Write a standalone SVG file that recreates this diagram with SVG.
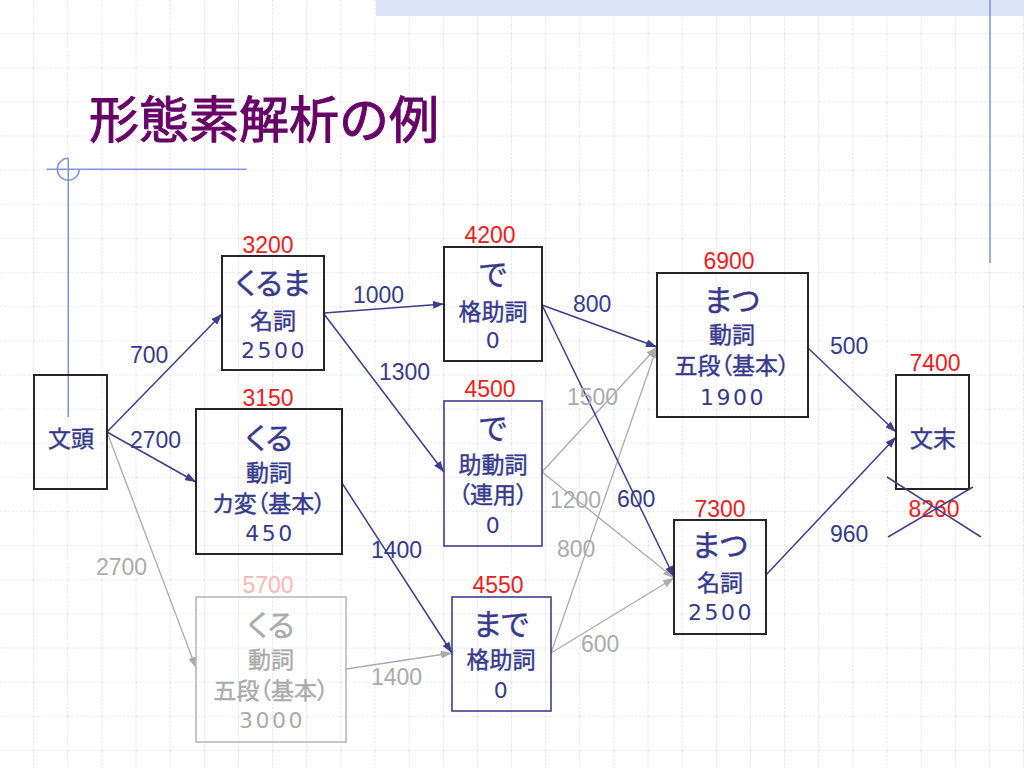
<svg xmlns="http://www.w3.org/2000/svg" width="1024" height="768" viewBox="0 0 1024 768">
<defs>
<style>
.nt{font-family:"Noto Sans CJK JP","Noto Sans",sans-serif;fill:#363a8c;stroke:#363a8c;stroke-width:0.4;text-anchor:middle;font-feature-settings:"palt"}
.big{font-size:30px}
.sub{font-size:23px}
.num{font-family:"DejaVu Sans",sans-serif;font-size:22px;letter-spacing:2.5px;fill:#363a8c;text-anchor:middle}
.g{fill:#ababab;stroke:#ababab}
.red{font-family:"Liberation Sans",sans-serif;font-size:23px;fill:#ee1c1c;text-anchor:middle}
.pink{fill:#ffb4b4}
.el{font-family:"Liberation Sans",sans-serif;font-size:23px;fill:#363a8c}
.elg{font-family:"Liberation Sans",sans-serif;font-size:23px;fill:#ababab}
.bk{fill:none;stroke:#262626;stroke-width:2}
.bn{fill:none;stroke:#3b4090;stroke-width:1.6}
.bg{fill:none;stroke:#b8b8b8;stroke-width:1.6}
.en{stroke:#3a3e8c;stroke-width:1.5;fill:none;marker-end:url(#an)}
.eg{stroke:#ababab;stroke-width:1.3;fill:none;marker-end:url(#ag)}
.deco{stroke:#8393dc;stroke-width:1.5;fill:none}
</style>
<marker id="an" markerWidth="11" markerHeight="8" refX="11" refY="4" orient="auto" markerUnits="userSpaceOnUse"><path d="M0,0 L11,4 L0,8 z" fill="#3a3e8c"/></marker>
<marker id="ag" markerWidth="11" markerHeight="8" refX="11" refY="4" orient="auto" markerUnits="userSpaceOnUse"><path d="M0,0 L11,4 L0,8 z" fill="#ababab"/></marker>
<pattern id="grid" width="34.1333" height="34.1333" patternUnits="userSpaceOnUse">
<path d="M34.1333 0V34.1333M0 34.1333H34.1333" stroke="#d6d6ee" stroke-width="1.2" stroke-dasharray="2.5 1.5" fill="none"/>
</pattern>
</defs>
<rect width="1024" height="768" fill="#ffffff"/>
<rect width="1024" height="768" fill="url(#grid)"/>
<rect x="376" y="0" width="648" height="16" fill="#dbe4f7"/>
<line class="deco" x1="990" y1="0" x2="990" y2="263"/>
<line class="deco" x1="46.7" y1="169.3" x2="246.7" y2="169.3"/>
<line class="deco" x1="68.3" y1="158.3" x2="68.3" y2="417"/>
<path class="deco" d="M68.3 158.3 A11 11 0 1 0 79.3 169.3"/>
<text x="89" y="138" style="font-family:'Noto Sans CJK JP',sans-serif;font-size:50px;fill:#660066;stroke:#660066;stroke-width:1">形態素解析の例</text>

<g id="connectors">
<line class="eg" x1="107" y1="432" x2="196" y2="668"/>
<line class="eg" x1="542" y1="472" x2="657" y2="347"/>
<line class="eg" x1="542" y1="472" x2="674" y2="578"/>
<line class="eg" x1="346" y1="669" x2="452" y2="653"/>
<line class="eg" x1="551" y1="653" x2="657" y2="347"/>
<line class="eg" x1="551" y1="653" x2="674" y2="578"/>
<line class="en" x1="107" y1="432" x2="222" y2="314"/>
<line class="en" x1="107" y1="432" x2="196" y2="482"/>
<line class="en" x1="324" y1="313" x2="444" y2="304"/>
<line class="en" x1="324" y1="314" x2="444" y2="472"/>
<line class="en" x1="542" y1="305" x2="657" y2="347"/>
<line class="en" x1="542" y1="305" x2="674" y2="577"/>
<line class="en" x1="342" y1="483" x2="452" y2="653"/>
<line class="en" x1="807" y1="347" x2="896" y2="432"/>
<line class="en" x1="766" y1="575" x2="896" y2="437"/>
<text class="el" x="130" y="363">700</text>
<text class="el" x="130" y="448">2700</text>
<text class="elg" x="96" y="575">2700</text>
<text class="el" x="353" y="303">1000</text>
<text class="el" x="379" y="380">1300</text>
<text class="el" x="573" y="312">800</text>
<text class="elg" x="567" y="405">1500</text>
<text class="elg" x="550" y="508">1200</text>
<text class="el" x="617" y="507">600</text>
<text class="el" x="371" y="558">1400</text>
<text class="elg" x="557" y="557">800</text>
<text class="elg" x="581" y="652">600</text>
<text class="elg" x="371" y="685">1400</text>
<text class="el" x="830" y="354">500</text>
<text class="el" x="830" y="542">960</text>
</g>

<g id="n-bunto">
<rect class="bk" x="34" y="375" width="73" height="114"/>
<text class="nt" x="71" y="447" style="font-size:23px">文頭</text>
</g>
<g id="n-kuruma">
<text class="red" x="268" y="253">3200</text>
<rect class="bk" x="222" y="256" width="102" height="114"/>
<text class="nt big" x="273" y="294">くるま</text>
<text class="nt sub" x="273" y="329">名詞</text>
<text class="num" x="274" y="358">2500</text>
</g>
<g id="n-kuru-ka">
<text class="red" x="268" y="406">3150</text>
<rect class="bk" x="196" y="409" width="146" height="145"/>
<text class="nt big" x="269" y="449">くる</text>
<text class="nt sub" x="269" y="481">動詞</text>
<text class="nt sub" x="269" y="512">カ変（基本）</text>
<text class="num" x="270" y="541">450</text>
</g>
<g id="n-kuru-go">
<text class="red pink" x="268" y="593">5700</text>
<rect class="bg" x="196" y="597" width="150" height="145"/>
<text class="nt big g" x="271" y="636">くる</text>
<text class="nt sub g" x="271" y="668">動詞</text>
<text class="nt sub g" x="271" y="699">五段（基本）</text>
<text class="num g" x="272" y="728" style="stroke:none">3000</text>
</g>
<g id="n-de1">
<text class="red" x="490" y="243">4200</text>
<rect class="bk" x="444" y="247" width="98" height="114"/>
<text class="nt big" x="493" y="285">で</text>
<text class="nt sub" x="493" y="320">格助詞</text>
<text class="num" x="494" y="348">0</text>
</g>
<g id="n-de2">
<text class="red" x="490" y="397">4500</text>
<rect class="bn" x="444" y="401" width="98" height="145"/>
<text class="nt big" x="493" y="439">で</text>
<text class="nt sub" x="493" y="473">助動詞</text>
<text class="nt sub" x="493" y="503">（連用）</text>
<text class="num" x="494" y="533">0</text>
</g>
<g id="n-made">
<text class="red" x="498" y="593">4550</text>
<rect class="bn" x="452" y="597" width="99" height="114"/>
<text class="nt big" x="501" y="635">まで</text>
<text class="nt sub" x="501" y="668">格助詞</text>
<text class="num" x="502" y="698">0</text>
</g>
<g id="n-matsu-v">
<text class="red" x="729" y="269">6900</text>
<rect class="bk" x="657" y="273" width="151" height="144"/>
<text class="nt big" x="732" y="311">まつ</text>
<text class="nt sub" x="732" y="343">動詞</text>
<text class="nt sub" x="732" y="374">五段（基本）</text>
<text class="num" x="733" y="405">1900</text>
</g>
<g id="n-matsu-n">
<text class="red" x="720" y="517">7300</text>
<rect class="bk" x="674" y="520" width="92" height="114"/>
<text class="nt big" x="720" y="556">まつ</text>
<text class="nt sub" x="720" y="591">名詞</text>
<text class="num" x="721" y="620">2500</text>
</g>
<g id="n-bunmatsu">
<text class="red" x="935" y="371">7400</text>
<rect class="bk" x="896" y="375" width="73" height="114"/>
<text class="nt" x="933" y="447" style="font-size:23px">文末</text>
<text class="red" x="934" y="517">8260</text>
<line x1="887" y1="477" x2="981" y2="537" stroke="#3a3e8c" stroke-width="1.5"/>
<line x1="888" y1="537" x2="973" y2="487" stroke="#3a3e8c" stroke-width="1.5"/>
</g>
</svg>
